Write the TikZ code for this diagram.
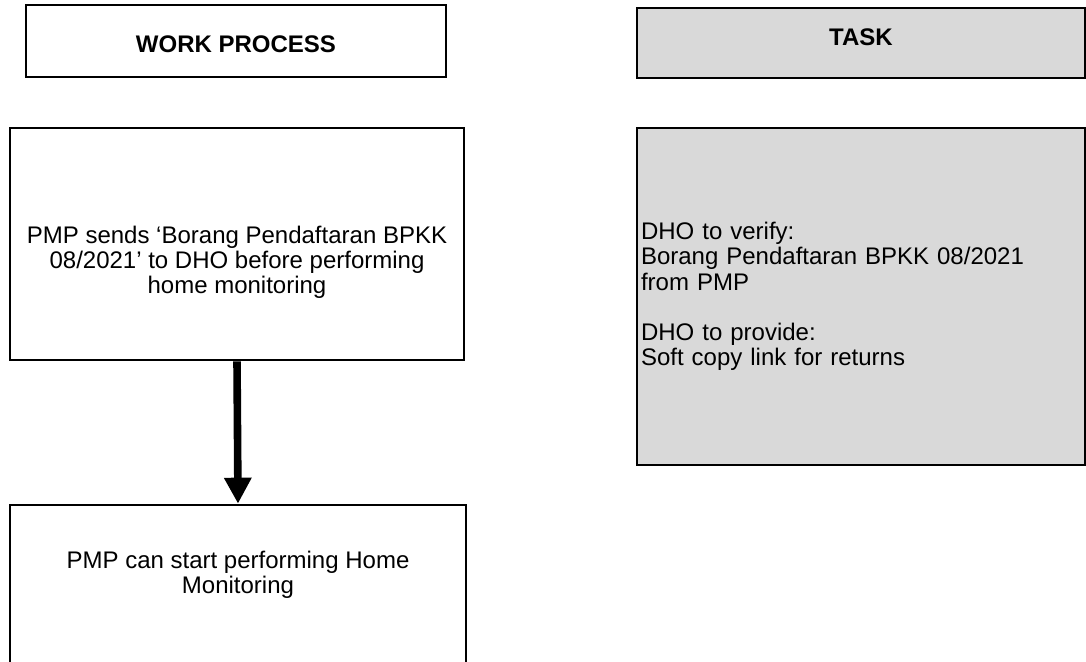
\documentclass[tikz,border=0pt]{standalone}
\usepackage{fontspec}
\setmainfont{Liberation Sans}
\usetikzlibrary{arrows.meta}
\definecolor{taskgray}{HTML}{D9D9D9}
\begin{document}
\begin{tikzpicture}[x=0.5pt, y=-0.5pt, >={Triangle[length=13pt, width=13pt]},
        box/.style={draw, line width=1.3pt, inner sep=0pt, font=\fontsize{12}{12.6}\selectfont},
        headbox/.style={box, font=\fontsize{12}{12.6}\selectfont\bfseries}]
                \useasboundingbox (0,0) rectangle (1086,662);
                \clip (0,0) rectangle (1086,662);
                % Headers
                \node[headbox, minimum width=210pt, minimum height=36pt] (wphead) at (236,41) {\rule{0pt}{12pt}WORK PROCESS};
                \node[headbox, fill=taskgray, minimum width=224pt, minimum height=35pt] (taskhead) at (861,43) {TASK\rule[-6pt]{0pt}{0pt}};

                % Work process boxes
                \node[box, minimum width=227pt, minimum height=116pt, align=center] (sendform) at (237,244)
                    {\rule{0pt}{27pt}PMP sends ‘Borang Pendaftaran BPKK\\08/2021’ to DHO before performing\\home monitoring};
                \node[box, minimum width=228pt, minimum height=84pt, align=center] (startmon) at (238,589)
                    {PMP can start performing Home\\Monitoring\rule[-17pt]{0pt}{0pt}};

                % Task box
                \node[box, fill=taskgray, inner xsep=2pt, text width=220pt, minimum height=168.5pt, align=left] (taskbox) at (861,296.5)
                    {DHO to verify:\\Borang Pendaftaran BPKK 08/2021\\from PMP\\[12.6pt]DHO to provide:\\Soft copy link for returns\\[12.6pt]};

                % Arrow
                \draw[->, line width=3.8pt] (sendform.south) -- (startmon.north);
            \end{tikzpicture}
\end{document}
